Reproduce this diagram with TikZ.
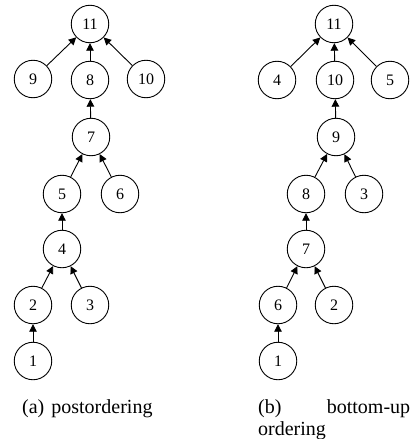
\documentclass[tikz,border=0pt]{standalone}
\usepackage{fontspec}
\setmainfont{Liberation Serif}
\usetikzlibrary{arrows.meta}
\tikzset{
  tn/.style={circle,draw,line width=0.9pt,minimum size=37.5pt,inner sep=0pt,font=\fontsize{16}{18}\selectfont},
  up/.style={line width=0.9pt,-{Triangle[length=7.5pt,width=7.5pt]}},
  captext/.style={font=\fontsize{20}{22}\selectfont,inner sep=0pt}
}
\begin{document}
\begin{tikzpicture}[x=1pt,y=-1pt]
\useasboundingbox (0,0) rectangle (413,439);
% (a) postordering
\node[tn] (a11) at (90,24) {11};
\node[tn] (a9) at (33,79) {9};
\node[tn] (a8) at (90,80) {8};
\node[tn] (a10) at (146,79) {10};
\node[tn] (a7) at (91,137) {7};
\node[tn] (a5) at (62,194) {5};
\node[tn] (a6) at (120,194) {6};
\node[tn] (a4) at (62,249) {4};
\node[tn] (a2) at (33,305) {2};
\node[tn] (a3) at (90,305) {3};
\node[tn] (a1) at (33,361) {1};
\draw[up] (a9) -- (a11);
\draw[up] (a8) -- (a11);
\draw[up] (a10) -- (a11);
\draw[up] (a7) -- (a8);
\draw[up] (a5) -- (a7);
\draw[up] (a6) -- (a7);
\draw[up] (a4) -- (a5);
\draw[up] (a2) -- (a4);
\draw[up] (a3) -- (a4);
\draw[up] (a1) -- (a2);
% (b) bottom-up ordering
\node[tn] (b11) at (334,24) {11};
\node[tn] (b4) at (277,80) {4};
\node[tn] (b10) at (335,80) {10};
\node[tn] (b5) at (390,80) {5};
\node[tn] (b9) at (336,137) {9};
\node[tn] (b8) at (306,194) {8};
\node[tn] (b3) at (364,194) {3};
\node[tn] (b7) at (306,249) {7};
\node[tn] (b6) at (278,305) {6};
\node[tn] (b2) at (334,305) {2};
\node[tn] (b1) at (278,361) {1};
\draw[up] (b4) -- (b11);
\draw[up] (b10) -- (b11);
\draw[up] (b5) -- (b11);
\draw[up] (b9) -- (b10);
\draw[up] (b8) -- (b9);
\draw[up] (b3) -- (b9);
\draw[up] (b7) -- (b8);
\draw[up] (b6) -- (b7);
\draw[up] (b2) -- (b7);
\draw[up] (b1) -- (b6);
% captions
\node[captext,anchor=base west] (capa) at (22,413) {(a)\hspace{7pt}postordering};
\node[captext,anchor=base west,text width=152pt,align=left] (capb) at (258,413) {(b)\hfill bottom-up\\ordering};
\end{tikzpicture}
\end{document}
